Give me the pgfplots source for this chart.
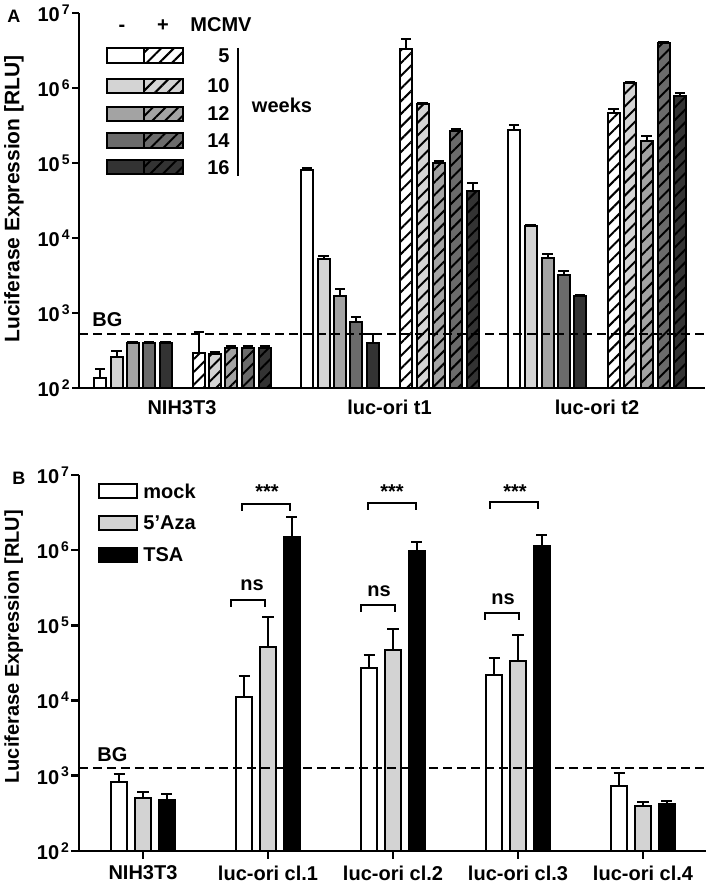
\documentclass[border=0pt]{standalone}
\usepackage{fontspec}
\setmainfont{Liberation Sans}
\usepackage{pgfplots}
\pgfplotsset{compat=1.18}
\usetikzlibrary{patterns.meta}

\definecolor{g1}{HTML}{FFFFFF}
\definecolor{g2}{HTML}{D4D4D4}
\definecolor{g3}{HTML}{A3A3A3}
\definecolor{g4}{HTML}{6B6B6B}
\definecolor{g5}{HTML}{333333}
\definecolor{aza}{HTML}{D3D3D3}

\tikzset{hatch/.style={postaction={pattern={Lines[angle=45,distance=4.5pt,line width=1pt]},pattern color=black}}}
\newcommand{\tf}{\fontsize{10}{12}\selectfont\bfseries}
\newcommand{\tp}[1]{10\kern1pt\textsuperscript{#1}}

\pgfplotsset{
  ebA/.style={error bars/.cd, y dir=plus, y explicit,
    error bar style={line width=1pt,black,solid},
    error mark options={black,line width=1pt,mark size=2.6pt,rotate=90}},
  ebB/.style={error bars/.cd, y dir=plus, y explicit,
    error bar style={line width=1pt,black,solid},
    error mark options={black,line width=1pt,mark size=2.8pt,rotate=90}},
}

\begin{document}
\begin{tikzpicture}
\useasboundingbox (0,0) rectangle (356pt,442pt);

% ---------------- Panel A ----------------
\begin{axis}[at={(39.5pt,248pt)}, anchor=south west, scale only axis, width=313pt, height=187.5pt,
  ymode=log, ymin=100, ymax=1e7, log origin=infty,
  xmin=79, xmax=705,
  axis x line=bottom, axis y line=left, axis line style={line width=1.3pt,-},
  ytick={1e2,1e3,1e4,1e5,1e6,1e7},
  yticklabels={\tp{2},\tp{3},\tp{4},\tp{5},\tp{6},\tp{7}},
  yminorticks=false, tick align=outside, major tick length=3.5pt,
  tick style={line width=1.3pt,black},
  tick label style={font=\tf},
  yticklabel style={inner sep=0pt, xshift=-0.5pt},
  ylabel={Luciferase Expression [RLU]},
  ylabel style={font=\fontsize{10.5}{12}\selectfont\bfseries, at={(axis description cs:-0.104,0.504)}, anchor=center},
  xtick={182,389.5,597}, xticklabels={NIH3T3,luc-ori t1,luc-ori t2},
  xticklabel style={yshift=1pt},
  x tick style={draw=none}]
% plain bars (- MCMV)
\addplot[ybar, bar width=6pt, bar shift=0pt, draw=black, line width=1pt, fill=g1, ebA] coordinates {(100,135) +- (0,45) (307,81000) +- (0,5000) (514,275000) +- (0,45000)};
\addplot[ybar, bar width=6pt, bar shift=0pt, draw=black, line width=1pt, fill=g2, ebA] coordinates {(116.5,260) +- (0,50) (323.5,5250) +- (0,500) (530.5,14500) +- (0,500)};
\addplot[ybar, bar width=6pt, bar shift=0pt, draw=black, line width=1pt, fill=g3, ebA] coordinates {(132.5,400) +- (0,10) (340,1700) +- (0,400) (547.5,5400) +- (0,800)};
\addplot[ybar, bar width=6pt, bar shift=0pt, draw=black, line width=1pt, fill=g4, ebA] coordinates {(149,400) +- (0,10) (356,760) +- (0,130) (563.5,3250) +- (0,350)};
\addplot[ybar, bar width=6pt, bar shift=0pt, draw=black, line width=1pt, fill=g5, ebA] coordinates {(165.5,400) +- (0,10) (373,400) +- (0,125) (580,1700) +- (0,50)};
% hatched bars (+ MCMV)
\addplot[ybar, bar width=6pt, bar shift=0pt, draw=black, line width=1pt, fill=g1, hatch, ebA] coordinates {(199,295) +- (0,265) (406,3300000) +- (0,1200000) (613.5,460000) +- (0,60000)};
\addplot[ybar, bar width=6pt, bar shift=0pt, draw=black, line width=1pt, fill=g2, hatch, ebA] coordinates {(215,285) +- (0,15) (422.5,610000) +- (0,20000) (630,1170000) +- (0,30000)};
\addplot[ybar, bar width=6pt, bar shift=0pt, draw=black, line width=1pt, fill=g3, hatch, ebA] coordinates {(231,340) +- (0,20) (439,100000) +- (0,5000) (646.5,196000) +- (0,34000)};
\addplot[ybar, bar width=6pt, bar shift=0pt, draw=black, line width=1pt, fill=g4, hatch, ebA] coordinates {(248,340) +- (0,20) (456,270000) +- (0,10000) (663.5,4000000) +- (0,100000)};
\addplot[ybar, bar width=6pt, bar shift=0pt, draw=black, line width=1pt, fill=g5, hatch, ebA] coordinates {(265,340) +- (0,20) (472.5,42000) +- (0,12000) (680,780000) +- (0,70000)};
\draw[line width=1pt, dash pattern=on 4.5pt off 2.5pt] (axis cs:79,525) -- (axis cs:705,525);
\end{axis}

% ---------------- Panel B ----------------
\begin{axis}[at={(39.5pt,16.5pt)}, anchor=south west, scale only axis, width=313.5pt, height=188pt,
  ymode=log, ymin=100, ymax=1e7, log origin=infty,
  xmin=-0.512, xmax=4.504,
  axis x line=bottom, axis y line=left, axis line style={line width=1.3pt,-},
  ytick={1e2,1e3,1e4,1e5,1e6,1e7},
  yticklabels={\tp{2},\tp{3},\tp{4},\tp{5},\tp{6},\tp{7}},
  yminorticks=false, tick align=outside, major tick length=3.8pt,
  tick style={line width=1.3pt,black},
  tick label style={font=\tf},
  yticklabel style={inner sep=0pt, xshift=-0.5pt},
  ylabel={Luciferase Expression [RLU]},
  ylabel style={font=\tf, at={(axis description cs:-0.104,0.543)}, anchor=center},
  xtick={0,1,2,3,4}, xticklabels={NIH3T3,luc-ori cl.1,luc-ori cl.2,luc-ori cl.3,luc-ori cl.4}]
\addplot[ybar, bar width=8pt, bar shift=0pt, draw=black, line width=1pt, fill=white, ebB] coordinates {(-0.19,830) +- (0,240) (0.81,11000) +- (0,10000) (1.81,27500) +- (0,13500) (2.81,22000) +- (0,15000) (3.81,735) +- (0,365)};
\addplot[ybar, bar width=8pt, bar shift=0pt, draw=black, line width=1pt, fill=aza, ebB] coordinates {(0,510) +- (0,100) (1,52000) +- (0,78000) (2,46500) +- (0,42500) (3,34000) +- (0,40000) (4,400) +- (0,50)};
\addplot[ybar, bar width=8pt, bar shift=0pt, draw=black, line width=1pt, fill=black, ebB] coordinates {(0.19,480) +- (0,95) (1.19,1500000) +- (0,1300000) (2.19,970000) +- (0,330000) (3.19,1120000) +- (0,480000) (4.19,425) +- (0,40)};
\draw[line width=1pt, dash pattern=on 4.5pt off 2.5pt] (axis cs:-0.512,1270) -- (axis cs:4.504,1270);
\end{axis}

% ---------------- Annotations (pixel frame) ----------------
\begin{scope}[x=0.5pt, y=-0.5pt, shift={(0pt,442pt)}]
  \node[font=\fontsize{9}{11}\selectfont\bfseries, anchor=base west, inner sep=0] at (7,23) {A};
  \node[font=\fontsize{9}{11}\selectfont\bfseries, anchor=base west, inner sep=0] at (12,485) {B};
  % legend A
  \node[font=\tf, anchor=base, inner sep=0] at (122,32) {-};
  \node[font=\tf, anchor=base, inner sep=0] at (163,32) {+};
  \node[font=\tf, anchor=base, inner sep=0] at (221,32) {MCMV};
  \foreach \c/\yt/\yb/\lab in {g1/48.5/63/5, g2/79/93/10, g3/106.7/120.7/12, g4/133.5/147.7/14, g5/160/174.3/16}{
    \path[fill=\c] (107,\yt) rectangle (183,\yb);
    \path[pattern={Lines[angle=45,distance=4.5pt,line width=1pt]}, pattern color=black] (144,\yt) rectangle (183,\yb);
    \draw[line width=1pt] (107,\yt) rectangle (183,\yb);
    \draw[line width=1pt] (144,\yt) -- (144,\yb);
    \node[font=\tf, anchor=base east, inner sep=0] at (230,\yb) {\lab};
  }
  \draw[line width=1pt] (238,48) -- (238,176);
  \node[font=\tf, anchor=base, inner sep=0] at (282,113) {weeks};
  \node[font=\tf, anchor=base west, inner sep=0] at (92,327) {BG};
  \node[font=\tf, anchor=base west, inner sep=0] at (97,762) {BG};
  % legend B
  \draw[line width=1pt, fill=white] (99,484) rectangle (137,498);
  \draw[line width=1pt, fill=aza] (99,516) rectangle (137,530);
  \draw[line width=1pt, fill=black] (99,548) rectangle (137,562);
  \node[font=\tf, anchor=west, inner sep=0] at (143,491) {mock};
  \node[font=\tf, anchor=west, inner sep=0] at (143,523) {5'Aza};
  \node[font=\tf, anchor=west, inner sep=0] at (143,555) {TSA};
  % significance
  \draw[line width=1pt] (242,511) -- (242,504) -- (290,504) -- (290,511);
  \node[font=\tf, anchor=base, inner sep=0] at (267,499) {***};
  \draw[line width=1pt] (231,607) -- (231,600) -- (265,600) -- (265,607);
  \node[font=\tf, anchor=base, inner sep=0] at (252,591) {ns};
  \draw[line width=1pt] (368,510) -- (368,503) -- (416,503) -- (416,510);
  \node[font=\tf, anchor=base, inner sep=0] at (392,499) {***};
  \draw[line width=1pt] (361,612) -- (361,605) -- (395,605) -- (395,612);
  \node[font=\tf, anchor=base, inner sep=0] at (379,597) {ns};
  \draw[line width=1pt] (490,509) -- (490,502) -- (538,502) -- (538,509);
  \node[font=\tf, anchor=base, inner sep=0] at (515,499) {***};
  \draw[line width=1pt] (485,620) -- (485,613) -- (519,613) -- (519,620);
  \node[font=\tf, anchor=base, inner sep=0] at (503,605) {ns};
\end{scope}
\end{tikzpicture}
\end{document}
